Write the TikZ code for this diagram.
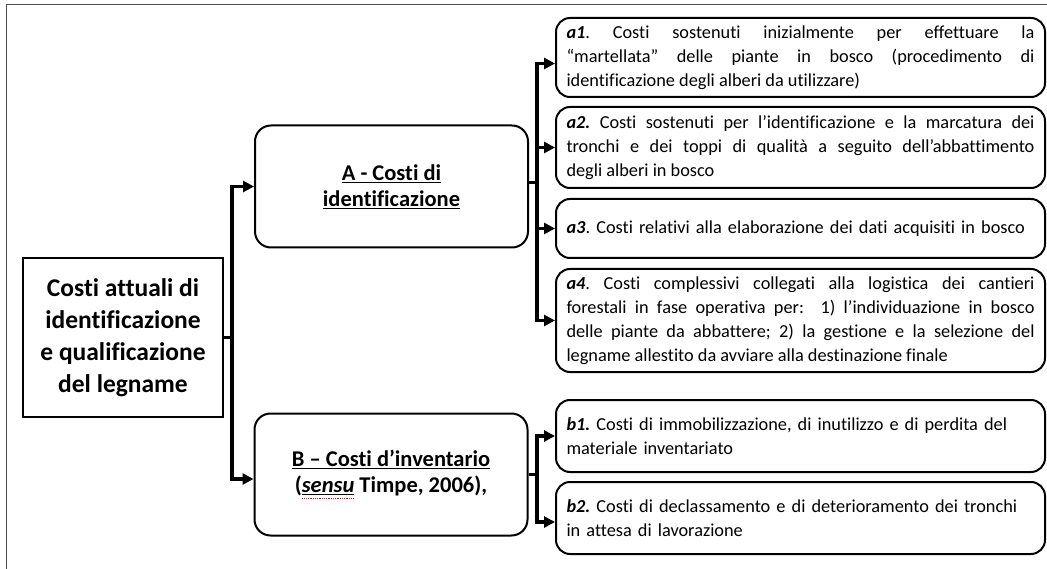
\documentclass[tikz,border=0pt]{standalone}
\usepackage{fontspec}
\setmainfont{Carlito}[Ligatures={NoCommon}]
\usetikzlibrary{arrows.meta}
\frenchspacing
\newcommand\redsq[1]{\setbox0=\hbox{#1}\leavevmode\rlap{\raisebox{-6.5pt}{\color{red}\hbox to \wd0{\leaders\hbox to 1.8pt{\hss\rule{0.9pt}{0.9pt}\hss}\hfil}}}\box0\relax}
\begin{document}
\begin{tikzpicture}[x=1pt,y=-1pt,
  mainbox/.style={draw, line width=2pt, minimum width=200pt, minimum height=159pt, inner sep=0pt, align=center, font=\fontsize{25.5}{32}\selectfont\bfseries},
  catbox/.style={draw, line width=2pt, rounded corners=16pt, minimum width=273pt, minimum height=122pt, inner sep=0pt, align=center, font=\fontsize{22.5}{26}\selectfont\bfseries},
  itembox/.style={draw, line width=2pt, rounded corners=14pt, text width=468pt, inner xsep=10.5pt, inner ysep=0pt, align=justify, font=\fontsize{18.3}{24}\selectfont\frenchspacing},
  itemleft/.style={itembox, align=left},
  conn/.style={line width=3.5pt},
  arr/.style={conn, -{Triangle[length=11pt,width=11pt]}},
  frame/.style={line width=1pt, black!70}]
\useasboundingbox (0,0) rectangle (1047,569);
\draw[frame] (6,569) -- (6,5) -- (1047,5);

% main
\node[mainbox] (main) at (123,337.5) {Costi attuali di\\identificazione\\e qualificazione\\del legname};

% categories
\node[catbox] (A) at (391.5,186.5) {\underline{A - Costi di}\\\underline{identificazione}};
\node[catbox] (B) at (391,474.5) {\underline{B – Costi d’inventario}\\(\redsq{\underline{\textit{sensu}}} Timpe, 2006),};

% items
\node[itembox, minimum height=79pt] (a1) at (800.5,57.5) {\textbf{\textit{a1}}. Costi sostenuti inizialmente per effettuare la\linebreak “martellata” delle piante in bosco (procedimento di\linebreak identificazione degli alberi da utilizzare)};
\node[itembox, minimum height=81pt] (a2) at (800.5,147.5) {\textbf{\textit{a2.}} Costi sostenuti per l’identificazione e la marcatura dei\linebreak tronchi e dei toppi di qualità a seguito dell’abbattimento\linebreak degli alberi in bosco};
\node[itemleft, minimum height=59pt] (a3) at (800.5,228.5) {\textbf{\textit{a3}}. Costi relativi alla elaborazione dei dati acquisiti in bosco};
\node[itembox, minimum height=103pt] (a4) at (800.5,320.5) {\textbf{\textit{a4}}. Costi complessivi collegati alla logistica dei cantieri\linebreak forestali in fase operativa per:\ \ 1) l’individuazione in bosco\linebreak delle piante da abbattere; 2) la gestione e la selezione del\linebreak legname allestito da avviare alla destinazione finale};
\node[itemleft, minimum height=72pt] (b1) at (800.5,436) {\textbf{\textit{b1.}} Costi di immobilizzazione, di inutilizzo e di perdita del\\materiale inventariato};
\node[itemleft, minimum height=72pt] (b2) at (800.5,518) {\textbf{\textit{b2.}} Costi di declassamento e di deterioramento dei tronchi\\in attesa di lavorazione};

% junction columns
\coordinate (j0) at (232,0);
\coordinate (j1) at (537,0);
\coordinate (j2) at (537,0);

% main -> A, B
\draw[conn] (main.east) -- (main.east -| j0);
\draw[arr] ([yshift=-4.5pt]j0 |- B.west) |- (A.west);
\draw[arr] (j0 |- A.west) |- ([yshift=-4.5pt]B.west);

% A -> a1..a4
\draw[conn] ([yshift=4pt]A.east) -- ([yshift=4pt]A.east -| j1);
\draw[arr] (j1 |- a4.west) |- ([yshift=-6pt]a1.west);
\draw[arr] ([yshift=-6pt]j1 |- a1.west) |- (a4.west);
\draw[arr] (j1 |- a2.west) -- (a2.west);
\draw[arr] (j1 |- a3.west) -- (a3.west);

% B -> b1, b2
\draw[conn] (B.east) -- (B.east -| j2);
\draw[arr] ([yshift=-4pt]j2 |- b2.west) |- (b1.west);
\draw[arr] (j2 |- b1.west) |- ([yshift=-4pt]b2.west);
\end{tikzpicture}
\end{document}
